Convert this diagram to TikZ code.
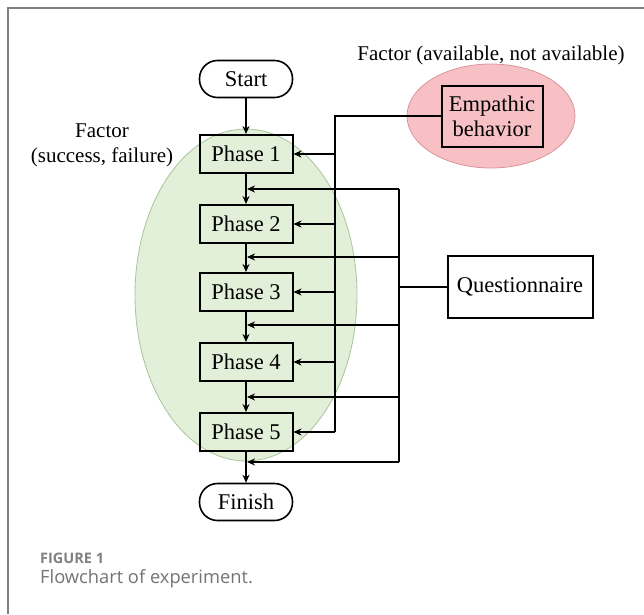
\documentclass[tikz,border=0pt]{standalone}
\usepackage{fontspec}
\setmainfont{Liberation Serif}
\newfontfamily\capfont{Open Sans}
\usetikzlibrary{positioning,arrows.meta,shapes.geometric}
\definecolor{groupgreen}{HTML}{E2EFD9}
\definecolor{groupgreenline}{HTML}{A9C49A}
\definecolor{grouppink}{HTML}{F7C0C5}
\definecolor{grouppinkline}{HTML}{D9959B}
\definecolor{capgray}{HTML}{808080}

\begin{document}
\begin{tikzpicture}[x=1pt,y=-1pt,
  every node/.style={font=\fontsize{22.5}{25}\selectfont},
  factor/.style={font=\fontsize{21}{25}\selectfont},
  phase/.style={draw, line width=2pt, minimum width=93pt, minimum height=38pt, inner sep=0pt},
  terminal/.style={draw, line width=1.6pt, rounded corners=18pt, minimum width=93pt, minimum height=37pt, inner sep=0pt},
  flow/.style={line width=1.8pt, -{Stealth[length=8pt,width=7pt]}},
  bus/.style={line width=1.8pt}]
  \useasboundingbox (0,0) rectangle (644,614);
  \draw[capgray, line width=1.5pt] (8,614) -- (8,8) -- (644,8);

  % factor groups
  \node[ellipse, fill=groupgreen, draw=groupgreenline, line width=0.8pt, minimum width=222pt, minimum height=332pt] (grpphase) at (246,295) {};
  \node[ellipse, fill=grouppink, draw=grouppinkline, line width=0.8pt, minimum width=168pt, minimum height=104pt] (grpemp) at (491,116) {};
  \node[factor] (factemp) at (491,55) {Factor (available, not available)};
  \node[factor, align=center] (factphase) at (102,145) {Factor\\(success, failure)};

  % flow
  \node[terminal] (start) at (246,79) {Start};
  \foreach \i/\y in {1/154,2/224,3/292,4/362,5/432}
    \node[phase] (ph\i) at (246,\y) {Phase \i};
  \node[terminal] (finish) at (246,502) {Finish};
  \draw[flow] (start) -- (ph1);
  \foreach \i [evaluate=\i as \j using int(\i+1)] in {1,...,4}
    \draw[flow] (ph\i) -- (ph\j);
  \draw[flow] (ph5) -- (finish);

  % empathic behavior
  \node[draw, line width=2pt, align=center, minimum width=101pt, minimum height=61pt, inner sep=0pt] (emp) at (492,116) {Empathic\\behavior};
  \coordinate (etop) at (335,116);
  \draw[bus] (emp.west) -- (etop) -- (etop |- ph5);
  \foreach \i in {1,...,5}
    \draw[flow] (etop |- ph\i) -- (ph\i.east);

  % questionnaire
  \node[draw, line width=2pt, minimum width=145pt, minimum height=62pt, inner sep=0pt] (quest) at (520,287) {Questionnaire};
  \foreach \i/\y in {1/189,2/257,3/325,4/397,5/462}
    \coordinate (q\i) at (399,\y);
  \draw[bus] (q1) -- (q5);
  \draw[bus] (quest.west) -- (quest.west -| q1);
  \foreach \i in {1,...,5}
    \draw[flow] (q\i) -- ([xshift=1pt]q\i -| ph1);

  % caption
  \node[anchor=base west, inner sep=0pt, text=capgray, font=\capfont\bfseries\fontsize{14.5}{17}\selectfont] (figno) at (40,563) {FIGURE 1};
  \node[anchor=base west, inner sep=0pt, text=capgray!90!black, font=\capfont\fontsize{18.3}{21}\selectfont] (figcap) at (40,583) {Flowchart of experiment.};
\end{tikzpicture}
\end{document}
